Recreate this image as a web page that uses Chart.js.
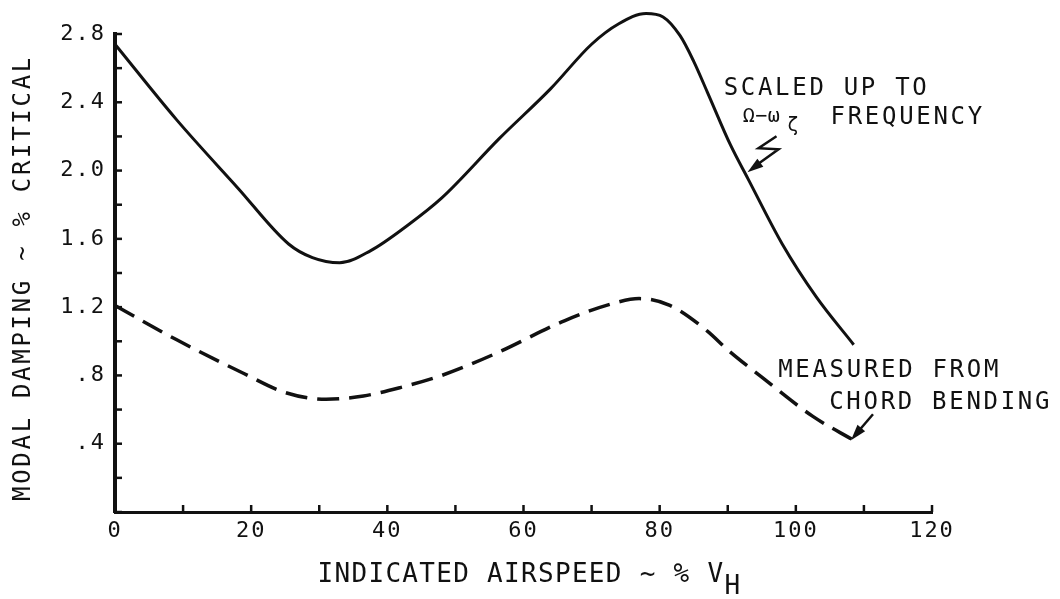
<!DOCTYPE html>
<html>
<head>
<meta charset="utf-8">
<script src="https://cdn.jsdelivr.net/npm/chart.js@4"></script>
<style>
  html, body { margin: 0; padding: 0; background: #fff; }
  #wrap { width: 1060px; height: 599px; }
</style>
</head>
<body>
<div id="wrap"><canvas id="c" width="1060" height="599"></canvas></div>
<script>
// airspeed (% VH) vs modal damping (% critical)
const scaledX = [0, 9, 18, 25.5, 29, 33, 37.5, 43, 48, 56.5, 64, 70, 74, 78, 80.5, 83, 85, 87, 90.4, 93, 98, 103, 108.5];
const scaledY = [2.74, 2.30, 1.90, 1.57, 1.49, 1.46, 1.53, 1.68, 1.84, 2.19, 2.48, 2.74, 2.86, 2.92, 2.90, 2.79, 2.64, 2.46, 2.15, 1.95, 1.57, 1.26, 0.98];

const chordX = [0, 9, 19, 25, 31, 36.5, 42, 48, 56, 66, 73, 77, 81.5, 87, 90, 95, 102.5, 108.5];
const chordY = [1.21, 1.01, 0.81, 0.70, 0.66, 0.68, 0.73, 0.80, 0.93, 1.12, 1.22, 1.25, 1.21, 1.06, 0.95, 0.79, 0.56, 0.42];

const xTickLabels = ['0', '20', '40', '60', '80', '100', '120'];
const yTickLabels = ['', '.4', '.8', '1.2', '1.6', '2.0', '2.4', '2.8'];

const FONT = '"DejaVu Sans Mono", "Liberation Mono", monospace';
const INK = '#111';

const toPoints = (xs, ys) => xs.map((x, i) => ({ x: x, y: ys[i] }));

function spaced(ctx, px) {
  if ('letterSpacing' in ctx) ctx.letterSpacing = px + 'px';
}

function arrowHead(ctx, fromX, fromY, toX, toY, len, half) {
  const a = Math.atan2(toY - fromY, toX - fromX);
  ctx.beginPath();
  ctx.moveTo(toX, toY);
  ctx.lineTo(toX - len * Math.cos(a) + half * Math.sin(a), toY - len * Math.sin(a) - half * Math.cos(a));
  ctx.lineTo(toX - len * Math.cos(a) - half * Math.sin(a), toY - len * Math.sin(a) + half * Math.cos(a));
  ctx.closePath();
  ctx.fill();
}

const paperPlugin = {
  id: 'paper',
  beforeDraw(chart) {
    const ctx = chart.ctx;
    ctx.save();
    ctx.fillStyle = '#fff';
    ctx.fillRect(0, 0, chart.width, chart.height);
    ctx.restore();
    spaced(ctx, 2);
  },
  afterDraw(chart) {
    const ctx = chart.ctx;
    const xs = chart.scales.x;
    const ys = chart.scales.y;
    const area = chart.chartArea;
    const px = v => xs.getPixelForValue(v);
    const py = v => ys.getPixelForValue(v);

    ctx.save();
    ctx.strokeStyle = INK;
    ctx.fillStyle = INK;

    // inward tick marks
    ctx.lineWidth = 2.5;
    ys.ticks.forEach(t => {
      const y = py(t.value);
      ctx.beginPath();
      ctx.moveTo(area.left, y);
      ctx.lineTo(area.left + 7, y);
      ctx.stroke();
    });
    xs.ticks.forEach(t => {
      const x = px(t.value);
      ctx.beginPath();
      ctx.moveTo(x, area.bottom);
      ctx.lineTo(x, area.bottom - 7);
      ctx.stroke();
    });

    // axis titles
    ctx.textBaseline = 'middle';
    ctx.font = '24px ' + FONT;
    spaced(ctx, 2.7);
    ctx.save();
    ctx.translate(24, (area.top + area.bottom) / 2 + 5);
    ctx.rotate(-Math.PI / 2);
    ctx.textAlign = 'center';
    ctx.fillText('MODAL DAMPING ~ % CRITICAL', 0, 0);
    ctx.restore();

    ctx.textAlign = 'left';
    ctx.textBaseline = 'alphabetic';
    ctx.font = '26px ' + FONT;
    spaced(ctx, 1.3);
    const xMain = 'INDICATED AIRSPEED ~ % V';
    const wMain = ctx.measureText(xMain).width;
    const wSub = ctx.measureText('H').width;
    const x0 = (area.left + area.right) / 2 + 6 - (wMain + wSub) / 2;
    ctx.fillText(xMain, x0, 582);
    ctx.fillText('H', x0 + wMain, 594);

    // annotations
    ctx.textBaseline = 'middle';
    ctx.font = '24px ' + FONT;
    spaced(ctx, 2.7);
    ctx.fillText('SCALED UP TO', px(89.4), py(2.48));
    ctx.fillText('FREQUENCY', px(105.1), py(2.31));
    ctx.font = '20px ' + FONT;
    spaced(ctx, 0.5);
    const omega = '\u03A9\u2212\u03C9';
    ctx.fillText(omega, px(92.2), py(2.31) - 1);
    const wOmega = ctx.measureText(omega).width;
    ctx.font = '19px ' + FONT;
    ctx.fillText('\u03B6', px(92.2) + wOmega + 7, py(2.31) + 8);

    ctx.font = '24px ' + FONT;
    spaced(ctx, 2.7);
    ctx.fillText('MEASURED FROM', px(97.4), py(0.83));
    ctx.fillText('CHORD BENDING', px(104.9), py(0.64));

    // zigzag arrow onto the solid curve
    ctx.lineWidth = 2.5;
    const tx = px(92.9), ty = py(1.99);
    ctx.beginPath();
    ctx.moveTo(tx + 29, ty - 36);
    ctx.lineTo(tx + 11, ty - 24);
    ctx.lineTo(tx + 31, ty - 23);
    ctx.lineTo(tx + 6, ty - 5);
    ctx.stroke();
    arrowHead(ctx, tx + 31, ty - 23, tx, ty, 16, 5);

    // arrow onto the dashed curve
    const dx = px(108.1), dy = py(0.42);
    ctx.beginPath();
    ctx.moveTo(dx + 22, dy - 26);
    ctx.lineTo(dx + 4, dy - 5);
    ctx.stroke();
    arrowHead(ctx, dx + 22, dy - 26, dx, dy, 16, 5);

    ctx.restore();
  }
};

new Chart(document.getElementById('c'), {
  type: 'line',
  data: {
    datasets: [
      {
        label: 'Scaled up to frequency',
        data: toPoints(scaledX, scaledY),
        borderColor: INK,
        borderWidth: 3,
        pointRadius: 0,
        cubicInterpolationMode: 'monotone',
        clip: false,
      },
      {
        label: 'Measured from chord bending',
        data: toPoints(chordX, chordY),
        borderColor: INK,
        borderWidth: 3.5,
        borderDash: [22, 10],
        pointRadius: 0,
        cubicInterpolationMode: 'monotone',
        clip: false,
      },
    ],
  },
  options: {
    responsive: false,
    animation: false,
    layout: { padding: { top: 34, right: 128, bottom: 0, left: 0 } },
    plugins: {
      legend: { display: false },
      tooltip: { enabled: false },
    },
    scales: {
      x: {
        type: 'linear',
        min: 0,
        max: 120,
        afterFit(s) { s.height = 87; },
        border: { color: INK, width: 3 },
        grid: { display: true, drawOnChartArea: false, drawTicks: false, tickLength: 0 },
        ticks: {
          stepSize: 10,
          autoSkip: false,
          maxRotation: 0,
          padding: 6,
          color: INK,
          font: { family: FONT, size: 22 },
          callback: v => (v % 20 === 0 ? xTickLabels[v / 20] : ''),
        },
      },
      y: {
        type: 'linear',
        min: 0,
        max: 2.8,
        afterFit(s) { s.width = 115; },
        border: { color: INK, width: 4 },
        grid: { display: true, drawOnChartArea: false, drawTicks: false, tickLength: 0 },
        ticks: {
          stepSize: 0.2,
          autoSkip: false,
          padding: 9,
          color: INK,
          font: { family: FONT, size: 22 },
          callback: v => {
            const k = Math.round(v * 10);
            return k % 4 === 0 ? yTickLabels[k / 4] : '';
          },
        },
      },
    },
  },
  plugins: [paperPlugin],
});
</script>
</body>
</html>
